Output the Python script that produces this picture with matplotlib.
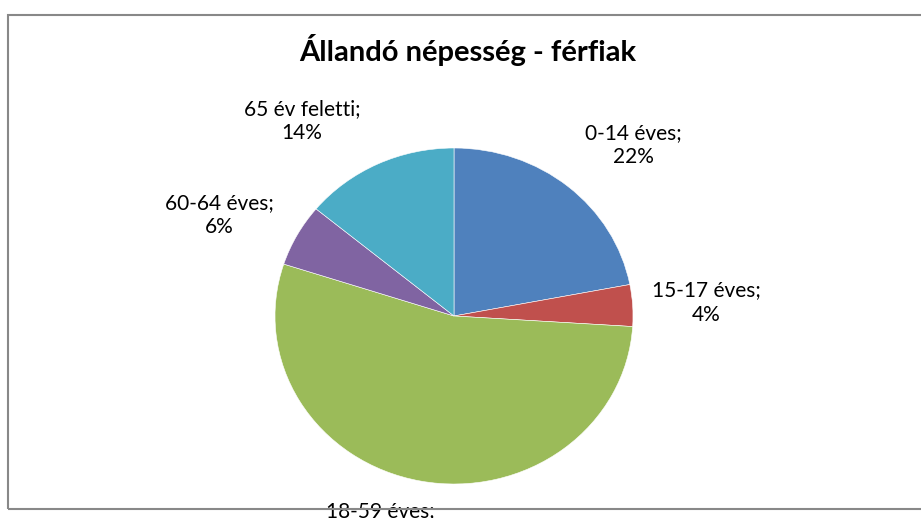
import matplotlib
matplotlib.use("Agg")
import matplotlib.pyplot as plt
from matplotlib.patches import Rectangle

## data
categories = ["0-14 éves", "15-17 éves", "18-59 éves", "60-64 éves", "65 év feletti"]
shares = [22, 4, 54, 6, 14]
colors = ["#4F81BD", "#C0504D", "#9BBB59", "#8064A2", "#4BACC6"]

# label centres, in pie units (radius = 1)
label_pos = [(1.00, 1.02), (1.41, 0.08), (-0.41, -1.23), (-1.31, 0.60), (-0.85, 1.16)]

plt.rcParams['font.family'] = ['Lato', 'DejaVu Sans']

W, H = 921, 518
fig = plt.figure(figsize=(W / 100, H / 100), dpi=100)

# outer frame (right edge runs off the picture)
fig.patches.append(Rectangle((8 / W, (H - 509) / H), 930 / W, 494 / H,
                             transform=fig.transFigure, fill=False,
                             edgecolor="#888888", linewidth=1.5))

# pie box is a little wider than tall in the original
ax = fig.add_axes([275 / W, (H - 484) / H, 358 / W, 336 / H])
ax.pie(shares, colors=colors, startangle=90, counterclock=False,
       wedgeprops=dict(edgecolor="white", linewidth=0.4))
ax.set_aspect('auto')
ax.set_xlim(-1, 1)
ax.set_ylim(-1, 1)
ax.axis('off')

total = sum(shares)
for name, val, (x, y) in zip(categories, shares, label_pos):
    txt = name + ";\n" + "{:.0%}".format(val / total)
    ax.text(x, y, txt, ha='center', va='center', fontsize=15,
            linespacing=1.25, clip_on=False, color="black")

fig.text(468 / W, 1 - 50 / H, "Állandó népesség - férfiak", ha='center',
         va='center', fontsize=21, fontweight='bold')

fig.savefig("out.png", dpi=100)
